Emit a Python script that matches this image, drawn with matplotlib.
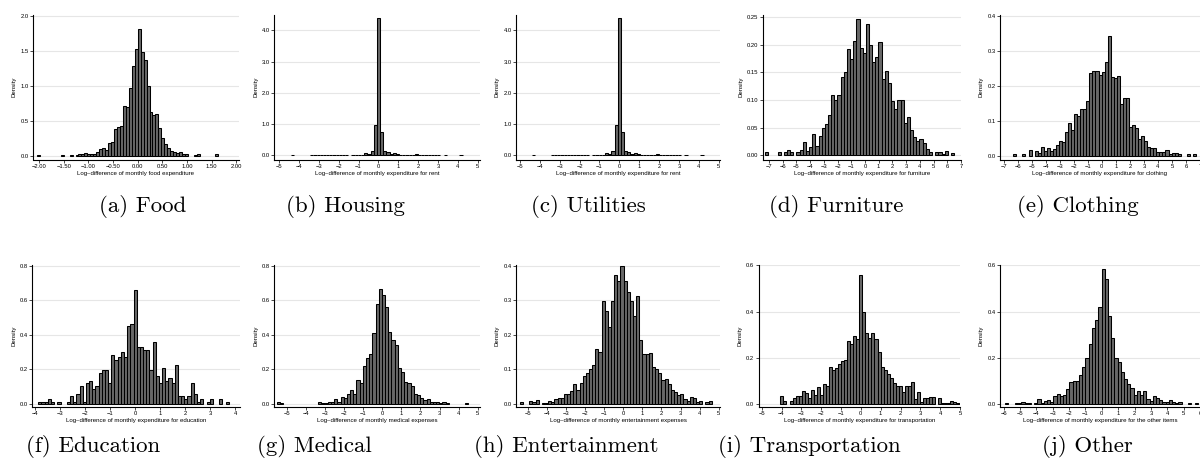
import numpy as np
import matplotlib
matplotlib.use("Agg")
import matplotlib.pyplot as plt

# ---------------- data (bin start, bin width, densities) ----------------
food_start, food_width = -2.10, 0.06
food_heights = [0, 0.01, 0, 0, 0, 0, 0, 0, 0, 0.01, 0, 0, 0.01, 0, 0.01, 0.02, 0.02, 0.04,
                0.03, 0.03, 0.03, 0.05, 0.10, 0.11, 0.08, 0.18, 0.20, 0.38, 0.41, 0.42, 0.71,
                0.70, 0.97, 1.28, 1.52, 1.81, 1.48, 1.36, 0.99, 0.62, 0.58, 0.60, 0.39, 0.26,
                0.17, 0.11, 0.07, 0.06, 0.04, 0.05, 0.03, 0.02, 0, 0, 0.01, 0.02, 0, 0, 0, 0,
                0, 0.02]

housing_start, housing_width = -4.40, 0.16
housing_heights = [0.02, 0, 0, 0, 0, 0, 0.01, 0.01, 0.02, 0.02, 0.02, 0.02, 0.01, 0.02, 0.02,
                   0.01, 0.02, 0.01, 0, 0.01, 0.02, 0.01, 0.02, 0.06, 0.03, 0.13, 0.96, 4.38,
                   0.75, 0.15, 0.10, 0.05, 0.06, 0.03, 0.02, 0.02, 0.02, 0.02, 0.02, 0.03, 0.02,
                   0.01, 0.02, 0.02, 0.02, 0.02, 0.01, 0, 0.01, 0, 0, 0, 0, 0.02]

utilities_start, utilities_width = -4.40, 0.16
utilities_heights = [0.02, 0, 0, 0, 0, 0, 0.01, 0.01, 0.02, 0.02, 0.02, 0.02, 0.01, 0.02, 0.02,
                     0.01, 0.02, 0.01, 0, 0.01, 0.02, 0.01, 0.02, 0.06, 0.03, 0.13, 0.96, 4.38,
                     0.75, 0.15, 0.10, 0.05, 0.06, 0.03, 0.02, 0.02, 0.02, 0.02, 0.02, 0.03, 0.02,
                     0.01, 0.02, 0.02, 0.02, 0.02, 0.01, 0, 0.01, 0, 0, 0, 0, 0.02]

furniture_start, furniture_width = -7.30, 0.23
furniture_heights = [0.005, 0, 0, 0, 0.005, 0, 0.005, 0.01, 0.005, 0, 0.005, 0.01, 0.023, 0.008,
                     0.015, 0.038, 0.016, 0.034, 0.05, 0.057, 0.073, 0.108, 0.1, 0.108, 0.142,
                     0.15, 0.192, 0.174, 0.207, 0.246, 0.193, 0.184, 0.238, 0.2, 0.169, 0.178,
                     0.204, 0.137, 0.153, 0.13, 0.098, 0.084, 0.1, 0.1, 0.059, 0.069, 0.045,
                     0.033, 0.025, 0.029, 0.022, 0.012, 0.006, 0, 0.006, 0.006, 0.003, 0.007, 0,
                     0.004]

clothing_start, clothing_width = -6.31, 0.217
clothing_heights = [0.005, 0, 0, 0.005, 0, 0.016, 0, 0.012, 0.008, 0.025, 0.013, 0.022, 0.013,
                    0.02, 0.031, 0.043, 0.04, 0.067, 0.094, 0.073, 0.118, 0.112, 0.133, 0.133,
                    0.155, 0.237, 0.242, 0.242, 0.231, 0.239, 0.268, 0.342, 0.224, 0.221, 0.227,
                    0.148, 0.164, 0.164, 0.083, 0.087, 0.079, 0.049, 0.057, 0.042, 0.024, 0.021,
                    0.022, 0.01, 0.01, 0.01, 0.016, 0.005, 0.009, 0.007, 0.004, 0, 0, 0.004, 0,
                    0.004]

education_start, education_width = -3.88, 0.127
education_heights = [0.015, 0.015, 0.015, 0.03, 0.015, 0, 0.015, 0, 0, 0.015, 0.045, 0.015,
                     0.06, 0.105, 0.015, 0.12, 0.135, 0.09, 0.105, 0.18, 0.195, 0.195, 0.12,
                     0.285, 0.255, 0.27, 0.30, 0.27, 0.45, 0.465, 0.66, 0.33, 0.33, 0.315, 0.315,
                     0.195, 0.36, 0.165, 0.12, 0.21, 0.135, 0.15, 0.12, 0.225, 0.045, 0.045, 0.03,
                     0.045, 0.12, 0.06, 0.015, 0.03, 0, 0.015, 0.03, 0, 0, 0.03, 0, 0.015]

medical_start, medical_width = -5.53, 0.167
medical_heights = [0.01, 0.005, 0, 0, 0, 0, 0, 0, 0, 0, 0, 0, 0, 0.01, 0.005, 0.005, 0.01,
                   0.015, 0.03, 0.015, 0.04, 0.035, 0.06, 0.08, 0.06, 0.14, 0.12, 0.22, 0.265,
                   0.29, 0.41, 0.58, 0.665, 0.63, 0.56, 0.415, 0.37, 0.34, 0.21, 0.185, 0.125,
                   0.12, 0.105, 0.06, 0.05, 0.035, 0.025, 0.03, 0.01, 0.01, 0.01, 0.005, 0.015,
                   0.005, 0, 0, 0, 0, 0, 0.005]

entertainment_start, entertainment_width = -5.43, 0.165
entertainment_heights = [0.005, 0, 0, 0.008, 0.005, 0.012, 0, 0.003, 0.004, 0.008, 0.005,
                         0.015, 0.017, 0.017, 0.03, 0.03, 0.037, 0.058, 0.042, 0.062, 0.082,
                         0.09, 0.1, 0.114, 0.16, 0.15, 0.297, 0.268, 0.223, 0.297, 0.372, 0.355,
                         0.4, 0.355, 0.325, 0.298, 0.254, 0.312, 0.184, 0.144, 0.145, 0.148,
                         0.108, 0.1, 0.09, 0.07, 0.072, 0.057, 0.04, 0.035, 0.025, 0.028, 0.016,
                         0.01, 0.02, 0.017, 0.005, 0.01, 0, 0.005, 0.01]

transport_start, transport_width = -4.055, 0.153
transport_heights = [0.035, 0.012, 0, 0.015, 0.028, 0.035, 0.035, 0.058, 0.048, 0.028, 0.062,
                     0.038, 0.076, 0.04, 0.088, 0.078, 0.16, 0.146, 0.158, 0.175, 0.188, 0.192,
                     0.275, 0.262, 0.296, 0.28, 0.56, 0.4, 0.308, 0.285, 0.308, 0.282, 0.226,
                     0.162, 0.148, 0.13, 0.112, 0.09, 0.078, 0.078, 0.052, 0.078, 0.078, 0.096,
                     0.022, 0.052, 0.008, 0.025, 0.025, 0.03, 0.03, 0, 0.025, 0.005, 0.005,
                     0.005, 0.012, 0.007, 0.005, 0.005]

other_start, other_width = -5.898, 0.196
other_heights = [0.003, 0, 0, 0.003, 0.003, 0.007, 0.004, 0.004, 0, 0.003, 0.022, 0.006, 0.013,
                 0.018, 0.007, 0.037, 0.044, 0.035, 0.04, 0.064, 0.095, 0.1, 0.1, 0.125, 0.16,
                 0.2, 0.262, 0.33, 0.363, 0.42, 0.585, 0.54, 0.383, 0.286, 0.2, 0.18, 0.14, 0.11,
                 0.085, 0.07, 0.04, 0.055, 0.04, 0.055, 0.022, 0.013, 0.036, 0.026, 0.017,
                 0.007, 0.008, 0.017, 0.01, 0.005, 0.01, 0, 0, 0.003, 0, 0.003]

xlabels = [
    "Log\u2013difference of monthly food expenditure",
    "Log\u2013difference of monthly expenditure for rent",
    "Log\u2013difference of monthly expenditure for rent",
    "Log\u2013difference of monthly expenditure for furniture",
    "Log\u2013difference of monthly expenditure for clothing",
    "Log\u2013difference of monthly expenditure for education",
    "Log\u2013difference of monthly medical expenses",
    "Log\u2013difference of monthly entertainment expenses",
    "Log\u2013difference of monthly expenditure for transportation",
    "Log\u2013difference of monthly expenditure for the other items",
]
captions = ["(a) Food", "(b) Housing", "(c) Utilities", "(d) Furniture", "(e) Clothing",
            "(f) Education", "(g) Medical", "(h) Entertainment", "(i) Transportation",
            "(j) Other"]

xticks_list = [np.arange(-2.0, 2.01, 0.5), np.arange(-5, 6), np.arange(-5, 6), np.arange(-7, 8),
               np.arange(-7, 8), np.arange(-4, 5), np.arange(-5, 6), np.arange(-5, 6),
               np.arange(-5, 6), np.arange(-6, 7)]
yticks_list = [np.arange(0, 2.01, 0.5), np.arange(0, 4.01, 1.0), np.arange(0, 4.01, 1.0),
               np.arange(0, 0.251, 0.05), np.arange(0, 0.41, 0.1), np.arange(0, 0.81, 0.2),
               np.arange(0, 0.81, 0.2), np.arange(0, 0.41, 0.1), np.arange(0, 0.61, 0.2),
               np.arange(0, 0.61, 0.2)]
xfmt = ["%.2f", "%d", "%d", "%d", "%d", "%d", "%d", "%d", "%d", "%d"]
yfmt = ["%.1f", "%.1f", "%.1f", "%.2f", "%.1f", "%.1f", "%.1f", "%.1f", "%.1f", "%.1f"]

series = [(food_start, food_width, food_heights),
          (housing_start, housing_width, housing_heights),
          (utilities_start, utilities_width, utilities_heights),
          (furniture_start, furniture_width, furniture_heights),
          (clothing_start, clothing_width, clothing_heights),
          (education_start, education_width, education_heights),
          (medical_start, medical_width, medical_heights),
          (entertainment_start, entertainment_width, entertainment_heights),
          (transport_start, transport_width, transport_heights),
          (other_start, other_width, other_heights)]

# ---------------- layout (pixels) ----------------
W, H = 1200, 468
rows_px = [(14.7, 159.5), (264.5, 406.8)]
cols_px = [(33.1, 238.8), (274.3, 480), (516, 720), (762.7, 961), (1000, 1200),
           (32.3, 240), (274.3, 480), (516, 720), (758.7, 960), (1000, 1200)]
xlims = [(-2.12, 2.05), (-5.25, 5.12), (-5.2, 5.07), (-7.46, 7.0), (-7.26, 6.74),
         (-4.12, 4.19), (-5.66, 5.12), (-5.63, 5.07), (-5.15, 4.98), (-6.22, 5.97)]
ylims = [(-0.054, 2.014), (-0.137, 4.5), (-0.137, 4.5), (-0.0078, 0.254), (-0.011, 0.403),
         (-0.0156, 0.806), (-0.0156, 0.806), (-0.0078, 0.403), (-0.0117, 0.604),
         (-0.0117, 0.604)]
caption_x = [143, 345, 588, 836, 1078, 93, 314, 566, 809, 1087]
caption_y = [207, 447]

fig = plt.figure(figsize=(12, 4.68), dpi=100)
sans = "Liberation Sans"
tick_fs, label_fs = 4.2, 4.4

for i, (start, width, heights) in enumerate(series):
    top, bot = rows_px[i // 5]
    l, r = cols_px[i]
    ax = fig.add_axes([l / W, 1 - bot / H, (r - l) / W, (bot - top) / H])
    h = np.asarray(heights, dtype=float)
    edges = start + width * np.arange(len(h) + 1)
    m = h > 0
    ax.bar(edges[:-1][m], h[m], width=width, align="edge", color="#686868",
           edgecolor="black", linewidth=0.75, zorder=2)
    ax.set_xlim(*xlims[i])
    ax.set_ylim(*ylims[i])
    ax.set_xticks(xticks_list[i])
    ax.set_xticklabels([(xfmt[i] % v).replace("-", "\u2212") for v in xticks_list[i]],
                       fontsize=tick_fs, family=sans)
    ax.set_yticks(yticks_list[i])
    ax.set_yticklabels([yfmt[i] % v for v in yticks_list[i]], fontsize=tick_fs, family=sans)
    ax.yaxis.grid(True, color="#e6e6e6", linewidth=0.8, zorder=0)
    ax.set_axisbelow(True)
    for s in ("top", "right"):
        ax.spines[s].set_visible(False)
    for s in ("left", "bottom"):
        ax.spines[s].set_linewidth(0.8)
        ax.spines[s].set_color("black")
    ax.tick_params(length=2, width=0.5, pad=1.2, colors="black")
    ax.set_xlabel(xlabels[i], fontsize=label_fs, family=sans, labelpad=1.3)
    ax.set_ylabel("Density", fontsize=label_fs, family=sans, labelpad=2.5)
    fig.text(caption_x[i] / W, 1 - caption_y[i // 5] / H, captions[i], family="cmr10",
             fontsize=16.5, ha="center", va="center")

fig.savefig("out.png", dpi=100)
